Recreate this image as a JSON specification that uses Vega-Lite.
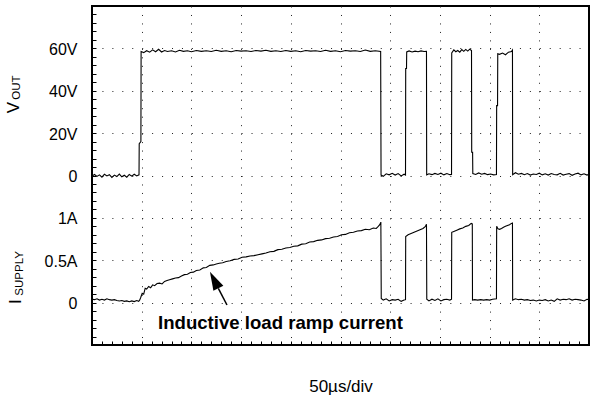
{
  "$schema": "https://vega.github.io/schema/vega-lite/v6.json",
  "width": 497,
  "height": 339,
  "autosize": {"type": "none"},
  "padding": {"left": 92, "top": 6, "right": 1, "bottom": 55},
  "background": "white",
  "config": {"view": {"stroke": "black", "strokeWidth": 2}, "font": "Liberation Sans"},
  "datasets": {
    "vout": [
      {"t": 0, "v": -0.3}, {"t": 2.5, "v": 0.5}, {"t": 5, "v": -0.4}, {"t": 7.5, "v": 0.3}, {"t": 10, "v": -0.8},
      {"t": 12.5, "v": 0.6}, {"t": 15, "v": -0.2}, {"t": 17.5, "v": 0.4}, {"t": 20, "v": -0.9}, {"t": 22.5, "v": 0.2},
      {"t": 25, "v": -0.5}, {"t": 27.5, "v": 0.7}, {"t": 30, "v": -0.6}, {"t": 32.5, "v": 0.1}, {"t": 35, "v": -0.8},
      {"t": 37.5, "v": 0.5}, {"t": 40, "v": -0.3}, {"t": 42.5, "v": 0.6}, {"t": 45, "v": -0.2}, {"t": 47.3, "v": 0.3},
      {"t": 47.5, "v": 15}, {"t": 49.2, "v": 16}, {"t": 49.4, "v": 58.5},
      {"t": 52, "v": 58.0}, {"t": 55, "v": 58.9}, {"t": 58, "v": 58.2}, {"t": 61, "v": 59.3}, {"t": 64, "v": 58.4},
      {"t": 67, "v": 59.6}, {"t": 70, "v": 58.3}, {"t": 73, "v": 59.0}, {"t": 76, "v": 58.5}, {"t": 80, "v": 58.9},
      {"t": 84, "v": 58.3}, {"t": 88, "v": 59.1}, {"t": 92, "v": 58.6}, {"t": 96, "v": 58.9}, {"t": 100, "v": 58.4},
      {"t": 105, "v": 59.0}, {"t": 110, "v": 58.6}, {"t": 115, "v": 58.9}, {"t": 120, "v": 58.5}, {"t": 125, "v": 59.1},
      {"t": 130, "v": 58.6}, {"t": 135, "v": 58.9}, {"t": 140, "v": 58.4}, {"t": 145, "v": 59.0}, {"t": 150, "v": 58.7},
      {"t": 155, "v": 58.9}, {"t": 160, "v": 58.5}, {"t": 165, "v": 59.0}, {"t": 170, "v": 58.7}, {"t": 175, "v": 59.1},
      {"t": 180, "v": 58.6}, {"t": 185, "v": 58.9}, {"t": 190, "v": 58.5}, {"t": 195, "v": 59.0}, {"t": 200, "v": 58.6},
      {"t": 205, "v": 58.9}, {"t": 210, "v": 58.4}, {"t": 215, "v": 59.0}, {"t": 220, "v": 58.7}, {"t": 225, "v": 58.9},
      {"t": 230, "v": 58.5}, {"t": 235, "v": 59.1}, {"t": 240, "v": 58.6}, {"t": 245, "v": 58.9}, {"t": 250, "v": 58.4},
      {"t": 255, "v": 59.0}, {"t": 260, "v": 58.7}, {"t": 265, "v": 58.9}, {"t": 270, "v": 58.5}, {"t": 275, "v": 59.2},
      {"t": 280, "v": 58.6}, {"t": 285, "v": 58.9}, {"t": 290.4, "v": 58.5},
      {"t": 290.8, "v": 0.2}, {"t": 293, "v": -0.4}, {"t": 296, "v": 0.8}, {"t": 299, "v": 0.3}, {"t": 302, "v": 1.0},
      {"t": 305, "v": 0.2}, {"t": 308, "v": 0.9}, {"t": 311, "v": -0.2}, {"t": 314, "v": 0.6}, {"t": 315.4, "v": 0.2},
      {"t": 315.6, "v": 50.5}, {"t": 316.4, "v": 50.5}, {"t": 316.6, "v": 58.3},
      {"t": 319, "v": 58.8}, {"t": 322, "v": 58.3}, {"t": 325, "v": 58.7}, {"t": 328, "v": 58.4}, {"t": 331, "v": 58.8},
      {"t": 334, "v": 58.5}, {"t": 336.5, "v": 58.6},
      {"t": 336.7, "v": 0.3}, {"t": 339, "v": 0.8}, {"t": 342, "v": 0.4}, {"t": 345, "v": 1.0}, {"t": 348, "v": 0.5},
      {"t": 351, "v": 1.1}, {"t": 354, "v": 0.3}, {"t": 357, "v": 0.9}, {"t": 360, "v": 0.4}, {"t": 361.7, "v": 0.5},
      {"t": 361.9, "v": 57.9}, {"t": 364, "v": 59.3}, {"t": 366, "v": 58.4}, {"t": 368, "v": 59.0}, {"t": 370, "v": 58.2},
      {"t": 372, "v": 59.4}, {"t": 374, "v": 58.6}, {"t": 376, "v": 59.5}, {"t": 378, "v": 58.7}, {"t": 380, "v": 59.6},
      {"t": 381.8, "v": 59.0},
      {"t": 382, "v": 11}, {"t": 382.9, "v": 11}, {"t": 383.1, "v": 0.9},
      {"t": 386, "v": 0.5}, {"t": 389, "v": 1.2}, {"t": 392, "v": 0.6}, {"t": 395, "v": 1.0}, {"t": 398, "v": 0.4},
      {"t": 401, "v": 0.7}, {"t": 404, "v": 0.3}, {"t": 406.9, "v": 0.5},
      {"t": 407.1, "v": 33}, {"t": 408, "v": 33}, {"t": 408.2, "v": 57.5},
      {"t": 410, "v": 57.2}, {"t": 413, "v": 57.8}, {"t": 416, "v": 57.0}, {"t": 419, "v": 58.2}, {"t": 422, "v": 58.5},
      {"t": 423, "v": 59.2},
      {"t": 423.2, "v": 0.4}, {"t": 426, "v": 1.3}, {"t": 429, "v": 0.6}, {"t": 432, "v": 1.0}, {"t": 435, "v": 0.4},
      {"t": 438, "v": 0.9}, {"t": 441, "v": 0.2}, {"t": 444, "v": 0.7}, {"t": 447, "v": 0.5}, {"t": 450, "v": 1.1},
      {"t": 453, "v": 0.3}, {"t": 456, "v": 0.8}, {"t": 459, "v": 0.2}, {"t": 462, "v": 0.9}, {"t": 465, "v": 0.5},
      {"t": 468, "v": 0.3}, {"t": 471, "v": 1.0}, {"t": 474, "v": 0.2}, {"t": 477, "v": 0.6}, {"t": 480, "v": 0.9},
      {"t": 483, "v": 0.1}, {"t": 486, "v": 0.7}, {"t": 489, "v": 1.1}, {"t": 492, "v": 0.3}, {"t": 495, "v": 0.8},
      {"t": 498, "v": 0.2}, {"t": 500, "v": 0.6}
    ],
    "isupply": [
      {"t": 0, "i": 0.04}, {"t": 2.5, "i": 0.035}, {"t": 5, "i": 0.045}, {"t": 7.5, "i": 0.03}, {"t": 10, "i": 0.04},
      {"t": 12.5, "i": 0.03}, {"t": 15, "i": 0.045}, {"t": 17.5, "i": 0.035}, {"t": 20, "i": 0.03}, {"t": 22.5, "i": 0.035},
      {"t": 25, "i": 0.025}, {"t": 27.5, "i": 0.02}, {"t": 30, "i": 0.025}, {"t": 32.5, "i": 0.015}, {"t": 35, "i": 0.02},
      {"t": 37.5, "i": 0.01}, {"t": 40, "i": 0.02}, {"t": 42.5, "i": 0.012}, {"t": 45, "i": 0.025}, {"t": 47, "i": 0.015},
      {"t": 48, "i": 0.03}, {"t": 49, "i": 0.06}, {"t": 50.5, "i": 0.11}, {"t": 52, "i": 0.10}, {"t": 53.5, "i": 0.17},
      {"t": 55, "i": 0.16}, {"t": 57, "i": 0.19}, {"t": 59, "i": 0.175}, {"t": 61, "i": 0.21}, {"t": 63, "i": 0.2},
      {"t": 65.5, "i": 0.225}, {"t": 68, "i": 0.23}, {"t": 70.5, "i": 0.22}, {"t": 73, "i": 0.25}, {"t": 75.5, "i": 0.26},
      {"t": 78, "i": 0.27}, {"t": 81, "i": 0.28}, {"t": 84, "i": 0.29}, {"t": 87, "i": 0.295}, {"t": 90, "i": 0.315},
      {"t": 93, "i": 0.33}, {"t": 96, "i": 0.335}, {"t": 99, "i": 0.355}, {"t": 102, "i": 0.36}, {"t": 105, "i": 0.38},
      {"t": 108.5, "i": 0.385}, {"t": 112, "i": 0.41}, {"t": 115, "i": 0.415}, {"t": 118.5, "i": 0.44}, {"t": 122, "i": 0.445},
      {"t": 125, "i": 0.455}, {"t": 128, "i": 0.465}, {"t": 131.5, "i": 0.47}, {"t": 135, "i": 0.485}, {"t": 139, "i": 0.495},
      {"t": 143, "i": 0.51}, {"t": 147, "i": 0.515}, {"t": 151, "i": 0.535}, {"t": 155, "i": 0.54}, {"t": 159, "i": 0.55},
      {"t": 163, "i": 0.555}, {"t": 167, "i": 0.565}, {"t": 171, "i": 0.575}, {"t": 175, "i": 0.585}, {"t": 179, "i": 0.6},
      {"t": 183, "i": 0.605}, {"t": 187, "i": 0.625}, {"t": 191, "i": 0.63}, {"t": 195, "i": 0.645}, {"t": 199, "i": 0.65},
      {"t": 203, "i": 0.665}, {"t": 207, "i": 0.67}, {"t": 211, "i": 0.69}, {"t": 215, "i": 0.695}, {"t": 219, "i": 0.715},
      {"t": 223, "i": 0.72}, {"t": 227, "i": 0.735}, {"t": 231, "i": 0.74}, {"t": 235, "i": 0.755}, {"t": 239, "i": 0.76},
      {"t": 243, "i": 0.775}, {"t": 247, "i": 0.78}, {"t": 251, "i": 0.8}, {"t": 255, "i": 0.805}, {"t": 259, "i": 0.825},
      {"t": 263, "i": 0.83}, {"t": 267, "i": 0.845}, {"t": 271, "i": 0.85}, {"t": 275, "i": 0.865}, {"t": 279, "i": 0.86},
      {"t": 283, "i": 0.88}, {"t": 286, "i": 0.875}, {"t": 288, "i": 0.9}, {"t": 289.5, "i": 0.92}, {"t": 290.6, "i": 0.95},
      {"t": 291, "i": 0.05}, {"t": 293, "i": 0.03}, {"t": 296, "i": 0.045}, {"t": 299, "i": 0.02}, {"t": 302, "i": 0.035},
      {"t": 305, "i": 0.03}, {"t": 308, "i": 0.04}, {"t": 311, "i": 0.015}, {"t": 314, "i": 0.03}, {"t": 315.4, "i": 0.035},
      {"t": 315.6, "i": 0.78}, {"t": 318, "i": 0.8}, {"t": 321, "i": 0.815}, {"t": 324, "i": 0.83}, {"t": 327, "i": 0.845},
      {"t": 330, "i": 0.86}, {"t": 333, "i": 0.875}, {"t": 335.5, "i": 0.9}, {"t": 336.5, "i": 0.925},
      {"t": 336.8, "i": 0.04}, {"t": 339, "i": 0.02}, {"t": 342, "i": 0.04}, {"t": 345, "i": 0.025}, {"t": 348, "i": 0.045},
      {"t": 351, "i": 0.02}, {"t": 354, "i": 0.035}, {"t": 357, "i": 0.04}, {"t": 360, "i": 0.03}, {"t": 361.7, "i": 0.04},
      {"t": 361.9, "i": 0.83}, {"t": 364, "i": 0.84}, {"t": 367, "i": 0.855}, {"t": 370, "i": 0.87}, {"t": 373, "i": 0.88},
      {"t": 376, "i": 0.9}, {"t": 379, "i": 0.91}, {"t": 381.5, "i": 0.935}, {"t": 382.6, "i": 0.93},
      {"t": 382.8, "i": 0.03}, {"t": 385, "i": 0.035}, {"t": 388, "i": 0.03}, {"t": 391, "i": 0.035}, {"t": 394, "i": 0.03},
      {"t": 397, "i": 0.035}, {"t": 400, "i": 0.03}, {"t": 403, "i": 0.04}, {"t": 406.9, "i": 0.045},
      {"t": 407.1, "i": 0.9}, {"t": 408.5, "i": 0.87}, {"t": 410, "i": 0.865}, {"t": 412, "i": 0.875}, {"t": 414, "i": 0.89},
      {"t": 416, "i": 0.9}, {"t": 418, "i": 0.91}, {"t": 420, "i": 0.92}, {"t": 422, "i": 0.935}, {"t": 423, "i": 0.94},
      {"t": 423.2, "i": 0.03}, {"t": 426, "i": 0.045}, {"t": 429, "i": 0.035}, {"t": 432, "i": 0.04}, {"t": 435, "i": 0.03},
      {"t": 438, "i": 0.035}, {"t": 441, "i": 0.025}, {"t": 444, "i": 0.03}, {"t": 447, "i": 0.02}, {"t": 450, "i": 0.03},
      {"t": 453, "i": 0.025}, {"t": 456, "i": 0.035}, {"t": 459, "i": 0.02}, {"t": 462, "i": 0.03}, {"t": 465, "i": 0.015},
      {"t": 468, "i": 0.045}, {"t": 471, "i": 0.03}, {"t": 474, "i": 0.04}, {"t": 477, "i": 0.035}, {"t": 480, "i": 0.045},
      {"t": 483, "i": 0.03}, {"t": 486, "i": 0.04}, {"t": 489, "i": 0.035}, {"t": 492, "i": 0.03}, {"t": 495, "i": 0.02},
      {"t": 498, "i": 0.04}, {"t": 500, "i": 0.035}
    ]
  },
  "layer": [
    {
      "data": {"name": "vout"},
      "mark": {"type": "line", "color": "black", "strokeWidth": 1.1},
      "encoding": {
        "x": {
          "field": "t", "type": "quantitative",
          "scale": {"domain": [0, 500], "nice": false, "zero": false},
          "axis": {
            "orient": "bottom",
            "values": [0,10,20,30,40,50,60,70,80,90,100,110,120,130,140,150,160,170,180,190,200,210,220,230,240,250,260,270,280,290,300,310,320,330,340,350,360,370,380,390,400,410,420,430,440,450,460,470,480,490,500],
            "labels": false, "domain": false,
            "ticks": true, "tickSize": -4, "tickColor": "black", "tickWidth": 1,
            "grid": true, "gridColor": "#222", "gridWidth": 1, "gridDash": [1, 7.475],
            "gridOpacity": {"condition": {"test": "datum.value % 50 === 0 && datum.value > 0 && datum.value < 500", "value": 1}, "value": 0},
            "title": "50µs/div", "titleFont": "Liberation Sans", "titleFontSize": 17, "titleFontWeight": "normal",
            "titleColor": "black", "titlePadding": 33
          }
        },
        "y": {
          "field": "v", "type": "quantitative",
          "scale": {"domain": [-80, 80], "nice": false, "zero": false},
          "axis": {
            "orient": "left",
            "values": [-80,-76,-72,-68,-64,-60,-56,-52,-48,-44,-40,-36,-32,-28,-24,-20,-16,-12,-8,-4,0,4,8,12,16,20,24,28,32,36,40,44,48,52,56,60,64,68,72,76,80],
            "domain": false,
            "ticks": true, "tickSize": -4, "tickColor": "black", "tickWidth": 1,
            "grid": true, "gridColor": "#222", "gridWidth": 1, "gridDash": [1, 8.94],
            "gridOpacity": {"condition": {"test": "datum.value % 20 === 0 && abs(datum.value) < 80", "value": 1}, "value": 0},
            "labelExpr": "datum.value == 60 ? '60V\u00a0' : datum.value == 40 ? '40V\u00a0' : datum.value == 20 ? '20V\u00a0' : datum.value == 0 ? '0' : datum.value == -20 ? '1A' : datum.value == -40 ? '0.5A' : datum.value == -60 ? '0' : ''",
            "labelFont": "Liberation Sans", "labelFontSize": 16, "labelColor": "black",
            "labelPadding": 19, "labelOffset": 1, "labelOverlap": false, "labelFlush": false, "labelBound": false,
            "title": null
          }
        }
      }
    },
    {
      "layer": [
        {
          "data": {"name": "isupply"},
          "mark": {"type": "line", "color": "black", "strokeWidth": 1.1},
          "encoding": {
            "x": {
              "field": "t", "type": "quantitative",
              "scale": {"domain": [0, 500], "nice": false, "zero": false},
              "axis": {
                "orient": "top",
                "values": [0,10,20,30,40,50,60,70,80,90,100,110,120,130,140,150,160,170,180,190,200,210,220,230,240,250,260,270,280,290,300,310,320,330,340,350,360,370,380,390,400,410,420,430,440,450,460,470,480,490,500],
                "labels": false, "domain": false, "grid": false,
                "ticks": true, "tickSize": -4, "tickColor": "black", "tickWidth": 1,
                "title": null
              }
            },
            "y": {
              "field": "i", "type": "quantitative",
              "scale": {"domain": [-0.5, 3.5], "nice": false, "zero": false},
              "axis": {
                "orient": "right",
                "values": [-0.5,-0.4,-0.3,-0.2,-0.1,0,0.1,0.2,0.3,0.4,0.5,0.6,0.7,0.8,0.9,1,1.1,1.2,1.3,1.4,1.5,1.6,1.7,1.8,1.9,2,2.1,2.2,2.3,2.4,2.5,2.6,2.7,2.8,2.9,3,3.1,3.2,3.3,3.4,3.5],
                "labels": false, "domain": false, "grid": false,
                "ticks": true, "tickSize": -4, "tickColor": "black", "tickWidth": 1,
                "title": null
              }
            }
          }
        },
        {
          "data": {"values": [{}]},
          "mark": {"type": "rule", "color": "black", "strokeWidth": 1.5},
          "encoding": {
            "x": {"datum": 135.8, "type": "quantitative", "axis": null},
            "y": {"datum": -0.028, "type": "quantitative", "axis": null},
            "x2": {"datum": 127.1},
            "y2": {"datum": 0.169}
          }
        },
        {
          "data": {"values": [{}]},
          "mark": {"type": "point", "shape": "M0,-1L0.6,1L-0.6,1Z", "filled": true, "color": "black", "opacity": 1, "size": 346, "angle": -27, "strokeWidth": 0},
          "encoding": {
            "x": {"datum": 122.9, "type": "quantitative", "axis": null},
            "y": {"datum": 0.267, "type": "quantitative", "axis": null}
          }
        },
        {
          "data": {"values": [{}]},
          "mark": {"type": "text", "align": "left", "baseline": "middle", "font": "Liberation Sans", "fontSize": 18.6, "fontWeight": "bold", "color": "black"},
          "encoding": {
            "x": {"datum": 66.4, "type": "quantitative", "axis": null},
            "y": {"datum": -0.245, "type": "quantitative", "axis": null},
            "text": {"value": "Inductive load ramp current"}
          }
        },
        {
          "data": {"values": [{}]},
          "mark": {"type": "text", "align": "center", "baseline": "alphabetic", "angle": 270, "font": "Liberation Sans", "fontSize": 17, "color": "black"},
          "encoding": {
            "x": {"datum": -73.1, "type": "quantitative", "axis": null},
            "y": {"datum": 2.302, "type": "quantitative", "axis": null},
            "text": {"value": "V"}
          }
        },
        {
          "data": {"values": [{}]},
          "mark": {"type": "text", "align": "center", "baseline": "alphabetic", "angle": 270, "font": "Liberation Sans", "fontSize": 11.5, "color": "black"},
          "encoding": {
            "x": {"datum": -72.1, "type": "quantitative", "axis": null},
            "y": {"datum": 2.538, "type": "quantitative", "axis": null},
            "text": {"value": "OUT"}
          }
        },
        {
          "data": {"values": [{}]},
          "mark": {"type": "text", "align": "center", "baseline": "alphabetic", "angle": 270, "font": "Liberation Sans", "fontSize": 17, "color": "black"},
          "encoding": {
            "x": {"datum": -71.4, "type": "quantitative", "axis": null},
            "y": {"datum": 0.012, "type": "quantitative", "axis": null},
            "text": {"value": "I"}
          }
        },
        {
          "data": {"values": [{}]},
          "mark": {"type": "text", "align": "center", "baseline": "alphabetic", "angle": 270, "font": "Liberation Sans", "fontSize": 11.5, "color": "black"},
          "encoding": {
            "x": {"datum": -69.4, "type": "quantitative", "axis": null},
            "y": {"datum": 0.345, "type": "quantitative", "axis": null},
            "text": {"value": "SUPPLY"}
          }
        }
      ]
    }
  ],
  "resolve": {"scale": {"y": "independent"}, "axis": {"x": "independent", "y": "independent"}}
}
